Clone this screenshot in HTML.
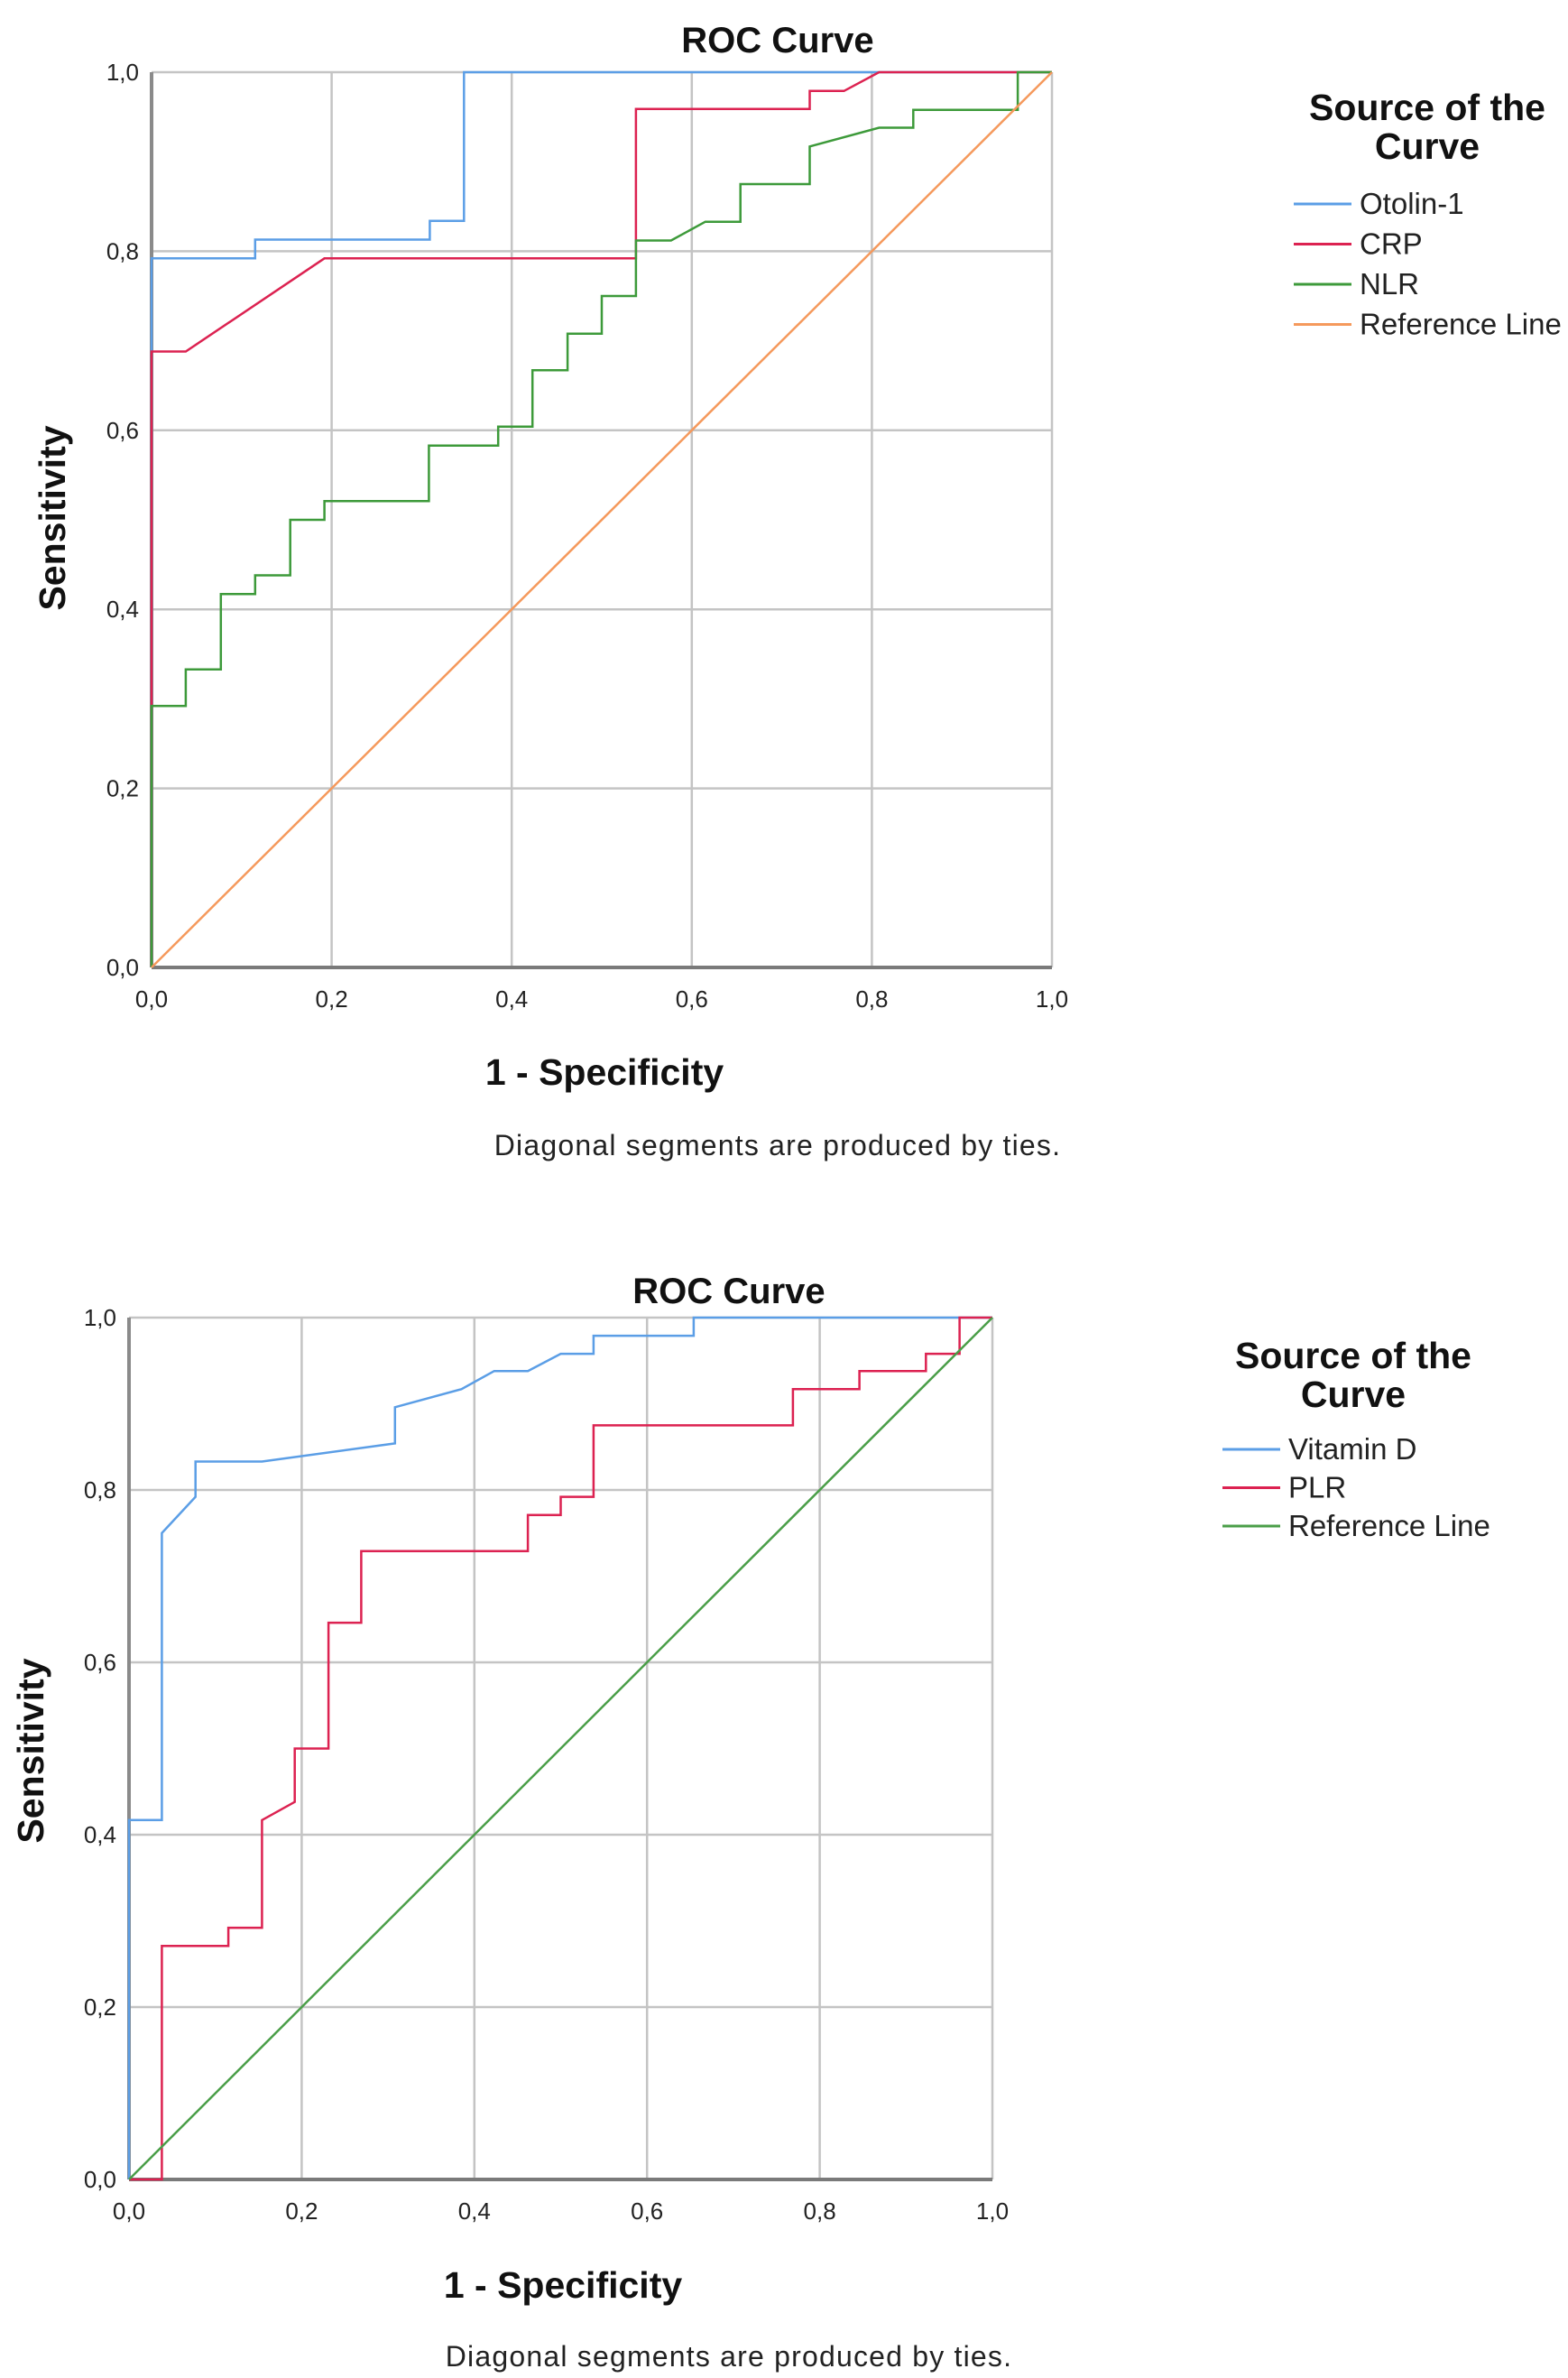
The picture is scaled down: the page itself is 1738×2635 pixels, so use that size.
<!DOCTYPE html>
<html><head><meta charset="utf-8"><style>
html,body{margin:0;padding:0;background:#fff;}
svg{display:block;font-family:"Liberation Sans",Arial,sans-serif;}
</style></head><body>
<svg id="s" width="1738" height="2635" viewBox="0 0 1738 2635"></svg>
<script>
const ticks=[0,0.2,0.4,0.6,0.8,1.0];
const tickLabels=["0,0","0,2","0,4","0,6","0,8","1,0"];
const otolinX=[0,0,0.115,0.115,0.309,0.309,0.347,0.347,1];
const otolinY=[0,0.792,0.792,0.813,0.813,0.834,0.834,1,1];
const crpX=[0,0,0.038,0.192,0.538,0.538,0.731,0.731,0.769,0.808,1];
const crpY=[0,0.688,0.688,0.792,0.792,0.959,0.959,0.979,0.979,1,1];
const nlrX=[0,0,0.038,0.038,0.077,0.077,0.115,0.115,0.154,0.154,0.192,0.192,0.308,0.308,0.385,0.385,0.423,0.423,0.462,0.462,0.5,0.5,0.538,0.538,0.577,0.615,0.654,0.654,0.731,0.731,0.808,0.846,0.846,0.962,0.962,1];
const nlrY=[0,0.292,0.292,0.333,0.333,0.417,0.417,0.438,0.438,0.5,0.5,0.521,0.521,0.583,0.583,0.604,0.604,0.667,0.667,0.708,0.708,0.75,0.75,0.812,0.812,0.833,0.833,0.875,0.875,0.917,0.938,0.938,0.958,0.958,1,1];
const refX=[0,1];
const refY=[0,1];
const vitX=[0,0,0.038,0.038,0.077,0.077,0.154,0.308,0.308,0.385,0.423,0.462,0.5,0.538,0.538,0.654,0.654,1];
const vitY=[0,0.417,0.417,0.75,0.792,0.833,0.833,0.854,0.896,0.917,0.938,0.938,0.958,0.958,0.979,0.979,1,1];
const plrX=[0,0.038,0.038,0.115,0.115,0.154,0.154,0.192,0.192,0.231,0.231,0.269,0.269,0.462,0.462,0.5,0.5,0.538,0.538,0.769,0.769,0.846,0.846,0.923,0.923,0.962,0.962,1];
const plrY=[0,0,0.271,0.271,0.292,0.292,0.417,0.438,0.5,0.5,0.646,0.646,0.729,0.729,0.771,0.771,0.792,0.792,0.875,0.875,0.917,0.917,0.938,0.938,0.958,0.958,1,1];

const S=document.getElementById('s');const NS='http://www.w3.org/2000/svg';
function mk(t,a,txt){const e=document.createElementNS(NS,t);for(const k in a)e.setAttribute(k,a[k]);if(txt!=null)e.textContent=txt;S.appendChild(e);return e;}

function chart(c){
  const sx=v=>c.l+v*(c.r-c.l), sy=v=>c.b-v*(c.b-c.t);
  ticks.forEach((t,i)=>{
    let g=mk('line',{x1:sx(t),x2:sx(t),y1:c.t,y2:c.b,stroke:'#c4c4c4','stroke-width':2.5});
    
    
    g=mk('line',{x1:c.l,x2:c.r,y1:sy(t),y2:sy(t),stroke:'#c4c4c4','stroke-width':2.5});
    
    
    let tx=mk('text',{x:c.l-14,y:sy(t)+9,'text-anchor':'end','font-size':26,fill:'#222'},tickLabels[i]);
    
    
    tx=mk('text',{x:sx(t),y:c.b+44,'text-anchor':'middle','font-size':26,fill:'#222'},tickLabels[i]);
    
    
  });
  let ax=mk('line',{x1:c.l,x2:c.l,y1:c.t,y2:c.b,stroke:'#8a8a8a','stroke-width':4});
  
  
  ax=mk('line',{x1:c.l,x2:c.r,y1:c.b,y2:c.b,stroke:'#7a7a7a','stroke-width':4});
  
  
  c.series.forEach(s=>{
    const pts=s.x.map((v,i)=>sx(v).toFixed(1)+','+sy(s.y[i]).toFixed(1)).join(' ');
    const p=mk('polyline',{points:pts,fill:'none',stroke:s.color,'stroke-width':2.5});
    
    
  });
  let t=mk('text',{x:c.titleX,y:c.titleY,'text-anchor':'middle','font-size':40,'font-weight':'bold',fill:'#111'},'ROC Curve');
  
  
  t=mk('text',{x:c.xtX,y:c.xtY,'text-anchor':'middle','font-size':41,'font-weight':'bold',fill:'#111'},'1 - Specificity');
  
  
  t=mk('text',{x:0,y:0,'text-anchor':'middle','font-size':41,'font-weight':'bold',fill:'#111',transform:'translate('+c.ytX+','+c.ytY+') rotate(-90)'},'Sensitivity');
  
  
  t=mk('text',{x:c.fnX,y:c.fnY,'text-anchor':'middle','font-size':32,fill:'#222','letter-spacing':'1.2'},'Diagonal segments are produced by ties.');
  
  
  t=mk('text',{x:c.lgX,y:c.lgY,'text-anchor':'middle','font-size':41,'font-weight':'bold',fill:'#111'},'Source of the');
  
  
  t=mk('text',{x:c.lgX,y:c.lgY+43,'text-anchor':'middle','font-size':41,'font-weight':'bold',fill:'#111'},'Curve');
  
  
  c.series.forEach((s,i)=>{
    const y=c.leY+i*c.leD;
    let l=mk('line',{x1:c.leX,x2:c.leX+64,y1:y,y2:y,stroke:s.color,'stroke-width':3});
    
    
    l=mk('text',{x:c.leX+73,y:y+11,'font-size':33,fill:'#222'},s.label);
    
    
  });
}
chart({l:168,r:1166,t:80,b:1072,titleX:862,titleY:58,xtX:670,xtY:1202,ytX:72,ytY:574,fnX:862,fnY:1280,
  lgX:1582,lgY:133,leX:1434,leY:226,leD:44.5,
  series:[{name:'otolin-1-curve',label:'Otolin-1',x:otolinX,y:otolinY,color:'#5b9ee6'},
  {name:'crp-curve',label:'CRP',x:crpX,y:crpY,color:'#dc2251'},
  {name:'nlr-curve',label:'NLR',x:nlrX,y:nlrY,color:'#3d9a3a'},
  {name:'reference-line',label:'Reference Line',x:refX,y:refY,color:'#f5995c'}]});
chart({l:143,r:1100,t:1460,b:2415,titleX:808,titleY:1444,xtX:624,xtY:2546,ytX:48,ytY:1940,fnX:808,fnY:2622,
  lgX:1500,lgY:1516,leX:1355,leY:1606,leD:42.5,
  series:[{name:'vitamin-d-curve',label:'Vitamin D',x:vitX,y:vitY,color:'#5b9ee6'},
  {name:'plr-curve',label:'PLR',x:plrX,y:plrY,color:'#dc2251'},
  {name:'reference-line',label:'Reference Line',x:refX,y:refY,color:'#4a9e48'}]});
</script>
</body></html>
